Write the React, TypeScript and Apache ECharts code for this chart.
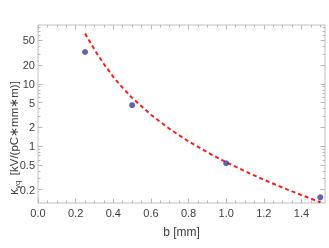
import React, { useEffect, useRef } from "react";
import * as echarts from "echarts";

// measured points
const bPoints = [0.25, 0.5, 1.0, 1.5];
const kappaPoints = [32.6, 4.55, 0.53, 0.15];

// dashed fit curve
const fitB = [0.25, 0.3, 0.35, 0.4, 0.45, 0.5, 0.6, 0.7, 0.8, 0.9, 1.0, 1.1, 1.2, 1.3, 1.4, 1.5];
const fitKappa = [64.6, 35.5, 20.9, 13.0, 8.61, 5.96, 3.2, 1.88, 1.19, 0.794, 0.55, 0.394, 0.288, 0.215, 0.163, 0.125];

// axis ticks
const xMajorTicks = [0, 0.2, 0.4, 0.6, 0.8, 1.0, 1.2, 1.4];
const xMinorTicks = [0.05, 0.1, 0.15, 0.25, 0.3, 0.35, 0.45, 0.5, 0.55, 0.65, 0.7, 0.75, 0.85, 0.9, 0.95, 1.05, 1.1, 1.15, 1.25, 1.3, 1.35, 1.45, 1.5];
const yMajorTicks = [0.2, 0.5, 1, 2, 5, 10, 20, 50];
const yMajorLabels = ["0.2", "0.5", "1", "2", "5", "10", "20", "50"];
const yMinorTicks = [0.3, 0.4, 0.6, 0.7, 0.8, 0.9, 3, 4, 6, 7, 8, 9, 30, 40, 60, 70, 80];

const X_MIN = 0;
const X_MAX = 1.525;
const Y_MIN = 0.1216;
const Y_MAX = 88.5;

const L = (v: number) => Math.log10(v);

export default function App() {
  const ref = useRef<HTMLDivElement>(null);
  useEffect(() => {
    if (!ref.current) return;
    const chart = echarts.init(ref.current, null, { renderer: "svg" });
    const tickColor = "#b8b8b8";
    const font = "Liberation Sans, Arial, sans-serif";
    const labelStyle = { color: "#404040", fontSize: 11, fontFamily: font };
    const baseX = (position: string, values: number[], len: number, labels: boolean) => ({
      type: "value",
      position,
      min: X_MIN,
      max: X_MAX,
      axisLine: { show: false, onZero: false },
      splitLine: { show: false },
      axisTick: { show: true, inside: true, length: len, customValues: values, lineStyle: { color: tickColor, width: 1 } },
      axisLabel: labels
        ? { show: true, customValues: values, margin: 4, ...labelStyle, formatter: (v: number) => v.toFixed(1) }
        : { show: false },
      name: labels && position === "bottom" ? "b [mm]" : "",
      nameLocation: "middle",
      nameGap: 23,
      nameTextStyle: { ...labelStyle, fontSize: 12 },
    });
    const baseY = (position: string, values: number[], len: number, labels: boolean) => ({
      type: "value",
      position,
      min: L(Y_MIN),
      max: L(Y_MAX),
      axisLine: { show: false, onZero: false },
      splitLine: { show: false },
      axisTick: { show: true, inside: true, length: len, customValues: values.map(L), lineStyle: { color: tickColor, width: 1 } },
      axisLabel: labels
        ? {
            show: true,
            customValues: values.map(L),
            margin: 3,
            ...labelStyle,
            formatter: (v: number) => {
              let best = 0;
              let bd = Infinity;
              yMajorTicks.forEach((t, i) => {
                const d = Math.abs(L(t) - v);
                if (d < bd) { bd = d; best = i; }
              });
              return yMajorLabels[best];
            },
          }
        : { show: false },
    });
    chart.setOption({
      animation: false,
      grid: { left: 38, top: 25, width: 287, height: 178, show: true, borderColor: "#c0c0c0", borderWidth: 1, backgroundColor: "transparent" },
      xAxis: [
        baseX("bottom", xMajorTicks, 4.5, true),
        baseX("bottom", xMinorTicks, 2.5, false),
        baseX("top", xMajorTicks, 4.5, false),
        baseX("top", xMinorTicks, 2.5, false),
      ],
      yAxis: [
        baseY("left", yMajorTicks, 4.5, true),
        baseY("left", yMinorTicks, 2.5, false),
        baseY("right", yMajorTicks, 4.5, false),
        baseY("right", yMinorTicks, 2.5, false),
      ],
      graphic: [
        {
          type: "text",
          x: 14,
          y: 138,
          rotation: Math.PI / 2,
          style: {
            text: "{k|κ}{s|yq} [kV/(pC∗mm∗m)]",
            align: "center",
            verticalAlign: "middle",
            fill: "#404040",
            font: "11.5px Liberation Sans, Arial, sans-serif",
            rich: {
              k: { fontSize: 12, fontFamily: font, fill: "#404040" },
              s: { fontSize: 8, fontFamily: font, fill: "#404040", verticalAlign: "bottom", padding: [6, 2, 0, 0] },
            },
          },
        },
      ],
      series: [
        {
          type: "line",
          data: fitB.map((b, i) => [b, L(fitKappa[i])]),
          smooth: false,
          showSymbol: false,
          symbol: "none",
          clip: true,
          lineStyle: { color: "#ff1a1a", width: 2, type: [4, 3] },
          z: 2,
        },
        {
          type: "scatter",
          data: bPoints.map((b, i) => [b, L(kappaPoints[i])]),
          symbol: "circle",
          symbolSize: 6,
          itemStyle: { color: "#3a3d98" },
          z: 3,
        },
      ],
    });
    return () => chart.dispose();
  }, []);
  return <div ref={ref} style={{ position: "fixed", left: 0, top: 0, width: 329, height: 248 }} />;
}
